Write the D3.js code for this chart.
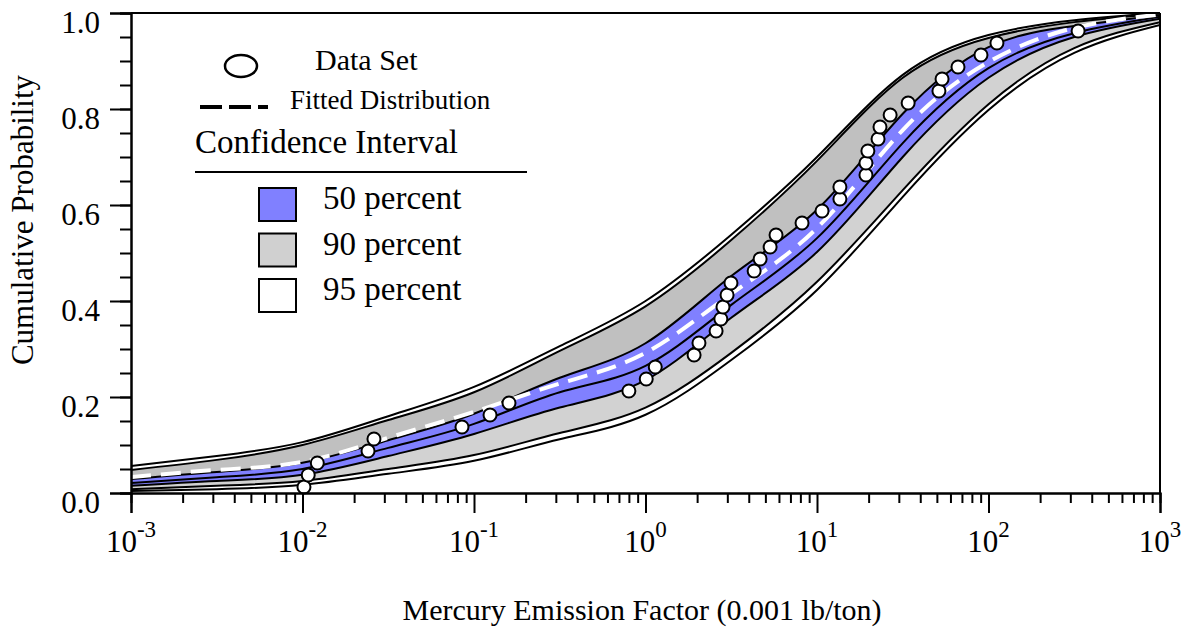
<!DOCTYPE html>
<html>
<head>
<meta charset="utf-8">
<script src="https://cdn.jsdelivr.net/npm/d3@7/dist/d3.min.js"></script>
<style>
  html, body { margin: 0; padding: 0; background: #fff; }
  svg { display: block; }
  text { font-family: "Liberation Serif", "Times New Roman", Tinos, "DejaVu Serif", serif; }
</style>
</head>
<body>
<svg id="chart" width="1184" height="629"></svg>
<script>
// ---------------- data ----------------
// grid of x positions (log10 of emission factor) at which band curves were read
const gridLog = [-3, -2.5, -2, -1.5, -1, -0.5, 0, 0.5, 1, 1.5, 2, 2.5, 3];
// cumulative probability of each confidence band boundary at the grid points
const upper95 = [0.056, 0.077, 0.106, 0.160, 0.221, 0.306, 0.400, 0.538, 0.700, 0.871, 0.954, 0.985, 1.000];
const upper90 = [0.048, 0.069, 0.100, 0.152, 0.210, 0.296, 0.389, 0.527, 0.692, 0.865, 0.948, 0.981, 0.999];
const upper50 = [0.029, 0.044, 0.063, 0.110, 0.165, 0.240, 0.312, 0.452, 0.590, 0.790, 0.929, 0.973, 0.996];
const median  = [0.021, 0.033, 0.050, 0.094, 0.144, 0.210, 0.265, 0.392, 0.531, 0.729, 0.885, 0.958, 0.992];
const lower50 = [0.015, 0.025, 0.038, 0.077, 0.123, 0.178, 0.235, 0.365, 0.502, 0.700, 0.865, 0.950, 0.988];
const lower90 = [0.008, 0.015, 0.025, 0.050, 0.079, 0.125, 0.178, 0.292, 0.440, 0.631, 0.810, 0.927, 0.981];
const lower95 = [0.004, 0.008, 0.017, 0.040, 0.067, 0.112, 0.163, 0.277, 0.423, 0.617, 0.798, 0.917, 0.975];
// fitted distribution (white dashed)
const fitted  = [0.033, 0.048, 0.065, 0.115, 0.169, 0.228, 0.292, 0.415, 0.552, 0.756, 0.898, 0.969, 0.997];

// data set (empirical points)
const dataX = [0.0102, 0.0108, 0.0122, 0.0241, 0.0261, 0.0851, 0.124, 0.160, 0.80, 1.01,
               1.14, 1.92, 2.05, 2.58, 2.75, 2.83, 2.99, 3.15, 4.30, 4.66,
               5.33, 5.77, 8.18, 10.7, 13.6, 13.6, 19.3, 19.3, 19.8, 22.7,
               23.3, 26.7, 34.0, 51.4, 53.6, 66.4, 90.4, 112, 333];
const dataP = [0.0125, 0.0375, 0.0625, 0.0875, 0.1125, 0.1375, 0.1625, 0.1875, 0.2125, 0.2375,
               0.2625, 0.2875, 0.3125, 0.3375, 0.3625, 0.3875, 0.4125, 0.4375, 0.4625, 0.4875,
               0.5125, 0.5375, 0.5625, 0.5875, 0.6125, 0.6375, 0.6625, 0.6875, 0.7125, 0.7375,
               0.7625, 0.7875, 0.8125, 0.8375, 0.8625, 0.8875, 0.9125, 0.9375, 0.9625];

const xTickExps = [-3, -2, -1, 0, 1, 2, 3];
const yTickVals = [0, 0.2, 0.4, 0.6, 0.8, 1.0];
const yTickLabels = ["0.0", "0.2", "0.4", "0.6", "0.8", "1.0"];
const legendBands = [
  {label: "50 percent", color: "#8080ff"},
  {label: "90 percent", color: "#d0d0d0"},
  {label: "95 percent", color: "#ffffff"}
];

// ---------------- layout ----------------
const FONT = "Liberation Serif, Times New Roman, Tinos, DejaVu Serif, serif";
const L = 131, R = 1160, T = 13, B = 493;
const svg = d3.select("#chart").attr("font-family", FONT);
const x = d3.scaleLog().domain([1e-3, 1e3]).range([L, R]);
const y = d3.scaleLinear().domain([0, 1]).range([B, T]);
const CURVE = d3.curveNatural;

svg.append("defs").append("clipPath").attr("id", "clip")
  .append("rect").attr("x", L).attr("y", T).attr("width", R - L).attr("height", B - T);

const plot = svg.append("g").attr("clip-path", "url(#clip)");

const pts = arr => arr.map((v, i) => [Math.pow(10, gridLog[i]), v]);
const lineGen = d3.line().x(d => x(d[0])).y(d => y(d[1])).curve(CURVE);
const areaGen = (top, bot) => d3.area()
  .x((d, i) => x(Math.pow(10, gridLog[i])))
  .y0((d, i) => y(bot[i]))
  .y1((d, i) => y(top[i]))
  .curve(CURVE)(gridLog);

plot.append("path").attr("d", areaGen(upper90, upper50)).attr("fill", "#c0c0c0");
plot.append("path").attr("d", areaGen(lower50, lower90)).attr("fill", "#d2d2d2");
plot.append("path").attr("d", areaGen(upper50, lower50)).attr("fill", "#8080ff");

[upper95, upper90, upper50, median, lower50, lower90, lower95].forEach(arr => {
  plot.append("path").attr("d", lineGen(pts(arr)))
    .attr("fill", "none").attr("stroke", "#000").attr("stroke-width", 2);
});

plot.append("path").attr("d", lineGen(pts(fitted)))
  .attr("fill", "none").attr("stroke", "#fff").attr("stroke-width", 4)
  .attr("stroke-dasharray", "20 10");

// data points
svg.append("g").selectAll("circle").data(dataX).join("circle")
  .attr("cx", d => x(d)).attr("cy", (d, i) => y(dataP[i])).attr("r", 6.5)
  .attr("fill", "#fff").attr("stroke", "#000").attr("stroke-width", 2);

// ---------------- axes ----------------
const axisColor = "#000";
svg.append("line").attr("x1", L).attr("x2", R).attr("y1", T).attr("y2", T)
  .attr("stroke", axisColor).attr("stroke-width", 2);
svg.append("line").attr("x1", R).attr("x2", R).attr("y1", T).attr("y2", B)
  .attr("stroke", axisColor).attr("stroke-width", 2);

const xMajor = xTickExps.map(e => Math.pow(10, e));
const xMinor = [];
for (let e = -3; e < 3; e++) for (let m = 2; m <= 9; m++) xMinor.push(m * Math.pow(10, e));

const gx = svg.append("g").attr("transform", `translate(0,${B})`);
gx.call(d3.axisBottom(x).tickValues(xMinor).tickSize(10).tickFormat(""));
const gx2 = svg.append("g").attr("transform", `translate(0,${B})`);
gx2.call(d3.axisBottom(x).tickValues(xMajor).tickSize(20).tickFormat(""));
[gx, gx2].forEach(g => {
  g.selectAll("path.domain").attr("stroke", axisColor).attr("stroke-width", 2);
  g.selectAll(".tick line").attr("stroke", axisColor).attr("stroke-width", 2);
});

xTickExps.forEach(e => {
  const t = svg.append("text").attr("x", x(Math.pow(10, e))).attr("y", 552)
    .attr("text-anchor", "middle").attr("font-size", 31).attr("font-family", FONT).attr("fill", "#000");
  t.append("tspan").text("10");
  t.append("tspan").attr("dy", -15).attr("font-size", 23).text(String(e));
});

const yMinor = d3.range(0, 21).map(i => i * 0.05);
const gy = svg.append("g").attr("transform", `translate(${L},0)`);
gy.call(d3.axisLeft(y).tickValues(yMinor).tickSize(11).tickFormat(""));
const gy2 = svg.append("g").attr("transform", `translate(${L},0)`);
gy2.call(d3.axisLeft(y).tickValues(yTickVals).tickSize(21).tickFormat(""));
[gy, gy2].forEach(g => {
  g.selectAll("path.domain").attr("stroke", axisColor).attr("stroke-width", 2);
  g.selectAll(".tick line").attr("stroke", axisColor).attr("stroke-width", 2);
});
yTickVals.forEach((v, i) => {
  svg.append("text").attr("x", 100).attr("y", y(v) + 20).attr("font-family", FONT)
    .attr("text-anchor", "end").attr("font-size", 31).text(yTickLabels[i]);
});

svg.append("text").attr("x", 642).attr("y", 620).attr("text-anchor", "middle").attr("font-family", FONT)
  .attr("font-size", 30).text("Mercury Emission Factor (0.001 lb/ton)");
svg.append("text").attr("transform", "translate(33,220) rotate(-90)").attr("font-family", FONT)
  .attr("text-anchor", "middle").attr("font-size", 31).text("Cumulative Probability");

// ---------------- legend ----------------
const lg = svg.append("g").attr("font-family", FONT);
lg.append("ellipse").attr("cx", 241).attr("cy", 66).attr("rx", 16).attr("ry", 11)
  .attr("fill", "#fff").attr("stroke", "#000").attr("stroke-width", 2.5);
lg.append("text").attr("x", 315).attr("y", 70).attr("font-size", 30).text("Data Set");
lg.append("line").attr("x1", 200).attr("x2", 268).attr("y1", 107).attr("y2", 107)
  .attr("stroke", "#000").attr("stroke-width", 4).attr("stroke-dasharray", "22 7");
lg.append("text").attr("x", 290).attr("y", 109).attr("font-size", 27).text("Fitted Distribution");
lg.append("text").attr("x", 195).attr("y", 153).attr("font-size", 33).text("Confidence Interval");
lg.append("line").attr("x1", 195).attr("x2", 527).attr("y1", 172).attr("y2", 172)
  .attr("stroke", "#000").attr("stroke-width", 2);
legendBands.forEach((b, i) => {
  const yy = 188 + i * 45.5;
  lg.append("rect").attr("x", 259).attr("y", yy).attr("width", 37).attr("height", 33)
    .attr("fill", b.color).attr("stroke", "#000").attr("stroke-width", 2);
  lg.append("text").attr("x", 323).attr("y", yy + 21).attr("font-size", 33).text(b.label);
});
</script>
</body>
</html>
